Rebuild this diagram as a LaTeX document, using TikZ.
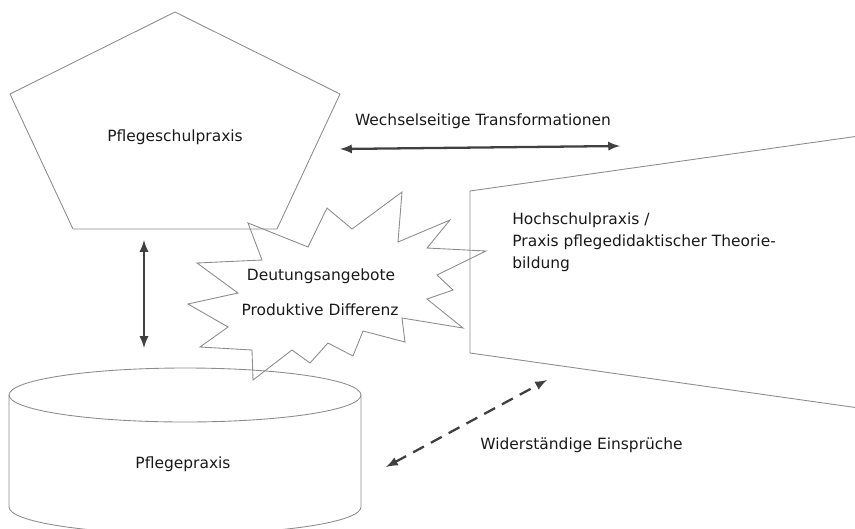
\documentclass[tikz,border=0pt]{standalone}
\usepackage{fontspec}
\setmainfont{DejaVu Sans}
\tikzset{outline/.style = {draw=black!45, line width=0.5pt},
         lbl/.style = {font=\fontsize{8.8}{12.7}\selectfont, text=black!90, inner sep=0pt},
         twoway/.style = {<->, >=latex, line width=1.3pt, draw=black!75},
         dashway/.style = {<->, >=latex, line width=1.3pt, draw=black!75, dash pattern=on 7pt off 4.5pt}}

\begin{document}
\begin{tikzpicture}[x=0.02cm,y=-0.02cm]
        \clip(0,0)rectangle(855,528);
        % Pflegeschulpraxis
        \draw[outline](175,12)--(340,94)--(277,229)--(73,229)--(10,94)--cycle;
        \node[lbl](schule)at(175,137){Pflegeschulpraxis};
        % Pflegepraxis
        \draw[outline](185,395)ellipse[x radius=176, y radius=27];
        \draw[outline](9,395)--(9,507) arc[start angle=180, end angle=0, x radius=176, y radius=27]--(361,395);
        \node[lbl](praxis)at(183,464){Pflegepraxis};
        % Hochschule
        \draw[outline](880,133)--(470,191)--(470,353)--(880,411);
        \node[lbl,anchor=north west,align=left](hochschule)at(512,212){Hochschulpraxis /\\Praxis pflegedidaktischer Theorie-\\bildung};
        % Differenz
        \draw[outline](248,223)--(308,247)--(327,208)--(352,229)--(402,192)--(398,242)
                --(450,220)--(427,248)--(486,251)--(437,275)--(453,290)--(427,299)
                --(463,328)--(402,318)--(405,342)--(363,331)--(353,356)--(328,343)
                --(310,363)--(292,350)--(253,380)--(252,350)--(200,347)--(228,327)
                --(188,304)--(238,293)--(197,263)--(262,260)--cycle;
        \node[lbl](deutung)at(321,276){Deutungsangebote};
        \node[lbl](differenz)at(320,310){Produktive Differenz};
        % Pfeile
        \coordinate(tl)at(340,149);
        \coordinate(tr)at(620,146);
        \coordinate(vo)at(144,240);
        \coordinate(vu)at(144,348);
        \coordinate(du)at(386,467);
        \coordinate(do)at(547,380);
        \draw[twoway](tl)--(tr);
        \draw[twoway](vo)--(vu);
        \draw[dashway](du)--(do);
        \node[lbl](wechsel)at(483,121){Wechselseitige Transformationen};
        \node[lbl,anchor=west](einspruch)at(480,445){Widerständige Einsprüche};
    \end{tikzpicture}
\end{document}
